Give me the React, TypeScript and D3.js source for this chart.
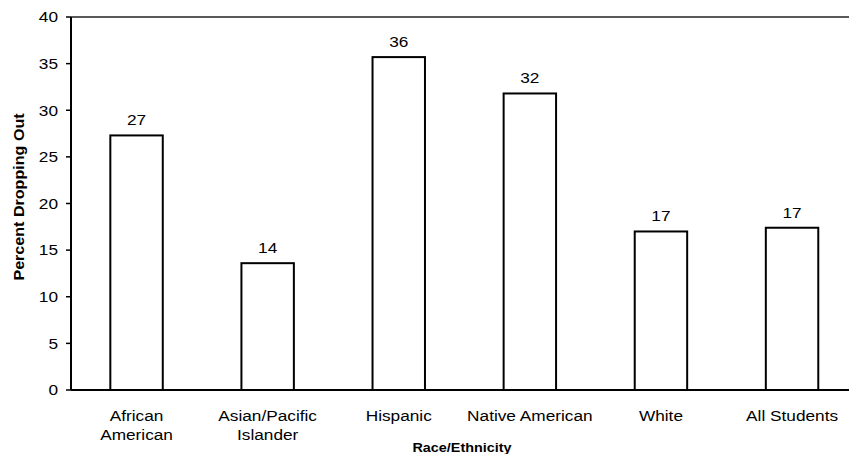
import React from "react";
import * as d3 from "d3";

const categories: string[][] = [
  ["African", "American"],
  ["Asian/Pacific", "Islander"],
  ["Hispanic"],
  ["Native American"],
  ["White"],
  ["All Students"],
];
const values: number[] = [27.3, 13.6, 35.7, 31.8, 17.0, 17.4];
const valueLabels: string[] = ["27", "14", "36", "32", "17", "17"];
const yTicks: number[] = [0, 5, 10, 15, 20, 25, 30, 35, 40];

const W = 849;
const H = 454;
const left = 71;
const right = 857.6;
const top = 17;
const bottom = 390;
const SX = 1.15;

function T(props: {
  x: number;
  y: number;
  size: number;
  anchor?: string;
  bold?: boolean;
  rotate?: boolean;
  dy?: string;
  children: React.ReactNode;
}) {
  const { x, y, size, anchor = "middle", bold, rotate, dy, children } = props;
  const tr = rotate
    ? `translate(${x},${y}) rotate(-90) scale(${SX},1)`
    : `translate(${x},${y}) scale(${SX},1)`;
  return (
    <text
      transform={tr}
      textAnchor={anchor}
      fontSize={size}
      fontWeight={bold ? "bold" : "normal"}
      dy={dy}
      fill="#000"
    >
      {children}
    </text>
  );
}

export default function App() {
  const ids = categories.map((_, i) => String(i));
  const x = d3.scaleBand<string>().domain(ids).range([left, right]).paddingInner(0.6).paddingOuter(0.3);
  const y = d3.scaleLinear().domain([0, 40]).range([bottom, top]);
  const font = "Arial, 'Liberation Sans', Helvetica, sans-serif";
  return (
    <svg width={W} height={H} style={{ position: "absolute", left: 0, top: 0, background: "#fff" }} fontFamily={font}>
      <rect x={0} y={0} width={W} height={H} fill="#fff" />
      <line x1={left} x2={W} y1={y(40)} y2={y(40)} stroke="#222" strokeWidth={1.5} />
      <line x1={left} x2={W} y1={y(0)} y2={y(0)} stroke="#000" strokeWidth={2} />
      <line x1={left} x2={left} y1={y(40)} y2={y(0)} stroke="#000" strokeWidth={2} />
      {yTicks.map((t) => (
        <g key={t}>
          <line x1={left - 5} x2={left} y1={y(t)} y2={y(t)} stroke="#000" strokeWidth={1.5} />
          <T x={58} y={y(t)} size={15} anchor="end" dy="0.35em">
            {t}
          </T>
        </g>
      ))}
      {values.map((v, i) => {
        const bx = x(String(i))!;
        const bw = x.bandwidth();
        return (
          <g key={i}>
            <rect x={bx} y={y(v)} width={bw} height={y(0) - y(v)} fill="#fff" stroke="#000" strokeWidth={2} />
            <T x={bx + bw / 2} y={y(v) - 10} size={15}>
              {valueLabels[i]}
            </T>
            {categories[i].map((line, j) => (
              <T key={j} x={bx + bw / 2} y={421 + j * 19} size={15}>
                {line}
              </T>
            ))}
          </g>
        );
      })}
      <T x={462} y={452} size={12.5} bold>
        Race/Ethnicity
      </T>
      <T x={24} y={197} size={14} bold rotate>
        Percent Dropping Out
      </T>
    </svg>
  );
}
